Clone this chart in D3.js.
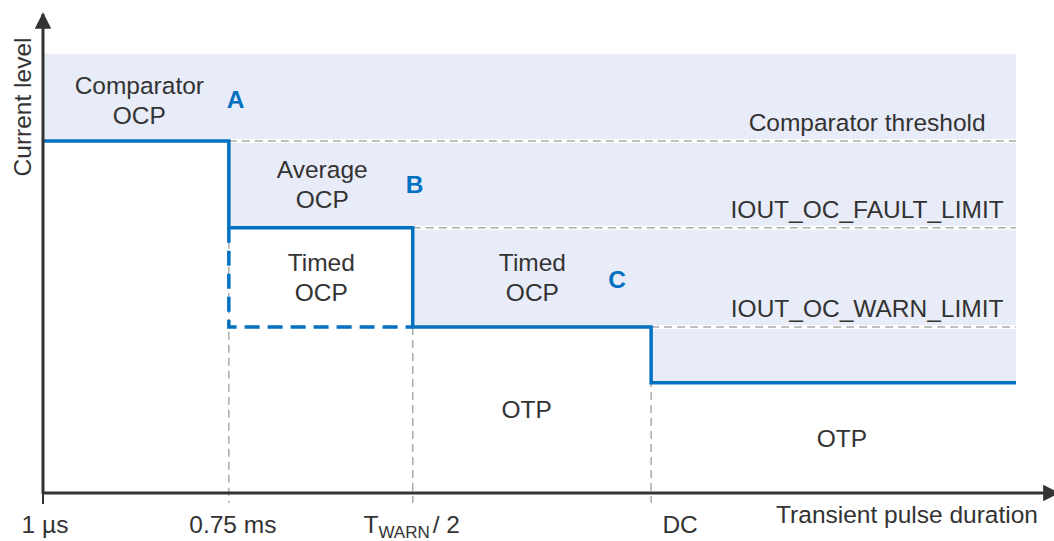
<!DOCTYPE html>
<html lang="en">
<head>
<meta charset="utf-8">
<title>OCP protection zones</title>
<script src="https://cdn.jsdelivr.net/npm/d3@7"></script>
<style>
  body { margin: 0; background: #fff; }
  text { font-family: Arial, "Liberation Sans", sans-serif; fill: #333; }
</style>
</head>
<body>
<script>
// pulse duration breakpoints (arbitrary, not to scale) and their labels
var xBreaks = [0, 19.1, 38.0, 62.5, 100];
var xTickLabels = ["1 µs", "0.75 ms", "TWARN / 2", "DC"];

// current limit after each breakpoint
var levels = [80.2, 60.4, 37.8, 25.1];
var levelNames = ["Comparator threshold", "IOUT_OC_FAULT_LIMIT", "IOUT_OC_WARN_LIMIT"];

// zone labels, anchored in data space (duration, level)
var zoneText = [["Comparator", "OCP"], ["Average", "OCP"], ["Timed", "OCP"], ["Timed", "OCP"], ["OTP"], ["OTP"]];
var zoneX = [9.9, 28.7, 28.6, 50.3, 49.7, 82.1];
var zoneY = [90.9, 71.8, 50.6, 50.6, 17.1, 10.5];

var markers = ["A", "B", "C"];
var markerX = [19.8, 38.2, 59.0];
var markerY = [87.7, 68.3, 46.7];

var w = 1054, h = 541;
var blue = "#0070c0", grey = "#ababab";
var fs = 24.5;

var x = d3.scaleLinear().domain([0, 100]).range([43, 1016]);
var y = d3.scaleLinear().domain([0, 100]).range([493, 54]);

var svg = d3.select("body").append("svg")
    .attr("width", w)
    .attr("height", h);

// step points
var pts = xBreaks.map(function(b, i) {
    return { x: b, l: levels[Math.min(i, levels.length - 1)] };
});

// shaded zone above the limit line
svg.append("path")
    .datum(pts)
    .attr("fill", "#e8ecf8")
    .attr("d", d3.area()
        .curve(d3.curveStepAfter)
        .x(function(d) { return x(d.x); })
        .y0(y(100))
        .y1(function(d) { return y(d.l); }));

// threshold lines (white strip with grey dashes)
levelNames.forEach(function(name, i) {
    svg.append("line")
        .attr("x1", x(xBreaks[i + 1])).attr("x2", x(100))
        .attr("y1", y(levels[i])).attr("y2", y(levels[i]))
        .attr("stroke", "#fff").attr("stroke-width", 4);
    svg.append("line")
        .attr("x1", x(xBreaks[i + 1])).attr("x2", x(100))
        .attr("y1", y(levels[i])).attr("y2", y(levels[i]))
        .attr("stroke", grey).attr("stroke-width", 1.5)
        .attr("stroke-dasharray", "8,5");
    svg.append("text")
        .attr("x", x(84.7))
        .attr("y", y(levels[i]) - 10)
        .attr("text-anchor", "middle")
        .attr("font-size", fs)
        .text(name);
});

// vertical guides down to the time axis
for (var i = 1; i < xBreaks.length - 1; i++) {
    svg.append("line")
        .attr("x1", x(xBreaks[i])).attr("x2", x(xBreaks[i]))
        .attr("y1", y(levels[Math.min(i, 2)]))
        .attr("y2", y(0) + 10)
        .attr("stroke", grey).attr("stroke-width", 1.5)
        .attr("stroke-dasharray", "8,5");
}

// timed OCP box (dashed)
svg.append("path")
    .attr("d", "M" + x(xBreaks[1]) + "," + y(levels[1]) +
               "V" + y(levels[2]) + "H" + x(xBreaks[2]))
    .attr("fill", "none")
    .attr("stroke", blue).attr("stroke-width", 3.5)
    .attr("stroke-dasharray", "15,8");

// limit line
svg.append("path")
    .datum(pts)
    .attr("fill", "none")
    .attr("stroke", blue)
    .attr("stroke-width", 3.5)
    .attr("d", d3.line()
        .curve(d3.curveStepAfter)
        .x(function(d) { return x(d.x); })
        .y(function(d) { return y(d.l); }));

// axes with arrows
var defs = svg.append("defs");
defs.append("marker")
    .attr("id", "arr")
    .attr("viewBox", "0 0 10 10")
    .attr("refX", 9).attr("refY", 5)
    .attr("markerWidth", 5.5).attr("markerHeight", 5.5)
    .attr("orient", "auto")
    .append("path").attr("d", "M0,0L10,5L0,10Z").attr("fill", "#333");

svg.append("line")
    .attr("x1", x(0)).attr("x2", x(0))
    .attr("y1", y(0) + 1).attr("y2", 14)
    .attr("stroke", "#333").attr("stroke-width", 3)
    .attr("marker-end", "url(#arr)");
svg.append("line")
    .attr("x1", x(0) - 1).attr("x2", w + 4)
    .attr("y1", y(0)).attr("y2", y(0))
    .attr("stroke", "#333").attr("stroke-width", 3)
    .attr("marker-end", "url(#arr)");
svg.append("line")
    .attr("x1", x(0)).attr("x2", x(0))
    .attr("y1", y(0)).attr("y2", y(0) + 11)
    .attr("stroke", "#333").attr("stroke-width", 2);

// x tick labels
var tickDx = [2, 4, -1, 29];
xTickLabels.forEach(function(t, i) {
    var tx = svg.append("text")
        .attr("x", x(xBreaks[i]) + tickDx[i])
        .attr("y", 533)
        .attr("text-anchor", "middle")
        .attr("font-size", fs);
    if (t.indexOf("TWARN") === 0) {
        tx.append("tspan").text("T");
        tx.append("tspan").attr("font-size", 17).attr("dy", 5).text("WARN");
        tx.append("tspan").attr("dy", -5).attr("dx", 3).text("/ 2");
    } else {
        tx.text(t);
    }
});

svg.append("text")
    .attr("x", 1038).attr("y", 523)
    .attr("text-anchor", "end")
    .attr("font-size", fs)
    .text("Transient pulse duration");

svg.append("text")
    .attr("transform", "translate(31,107) rotate(-90)")
    .attr("text-anchor", "middle")
    .attr("font-size", fs)
    .text("Current level");

// zone labels
zoneText.forEach(function(lines, i) {
    var t = svg.append("text")
        .attr("x", x(zoneX[i]))
        .attr("y", y(zoneY[i]))
        .attr("text-anchor", "middle")
        .attr("font-size", fs);
    lines.forEach(function(s, j) {
        t.append("tspan")
            .attr("x", x(zoneX[i]))
            .attr("dy", j === 0 ? 0 : 30)
            .text(s);
    });
});

markers.forEach(function(m, i) {
    svg.append("text")
        .attr("x", x(markerX[i]))
        .attr("y", y(markerY[i]))
        .attr("text-anchor", "middle")
        .attr("font-size", fs)
        .attr("font-weight", "bold")
        .style("fill", blue)
        .text(m);
});
</script>
</body>
</html>
